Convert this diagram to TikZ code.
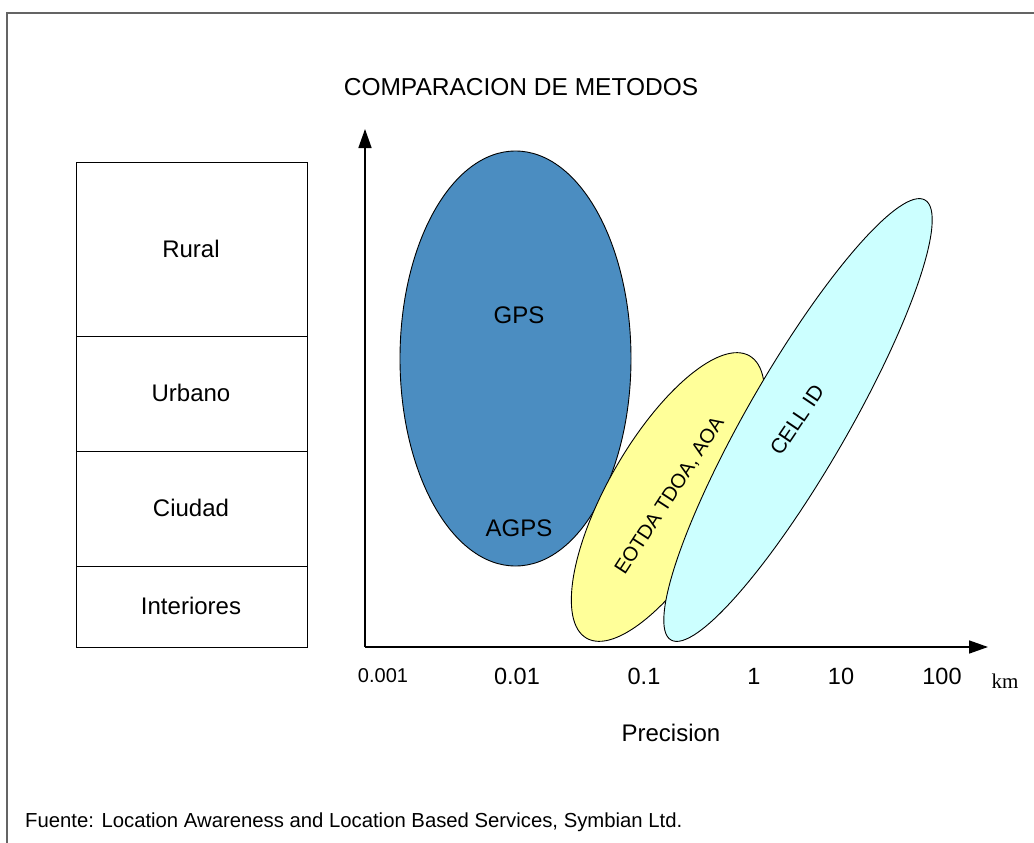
\documentclass[tikz,border=0pt]{standalone}
\usepackage{fontspec}
\setmainfont{Liberation Sans}
\newfontfamily\serifkm{Liberation Serif}
\usetikzlibrary{shapes.geometric,arrows.meta}
\definecolor{gpsblue}{RGB}{75,141,193}
\definecolor{eyellow}{RGB}{255,255,153}
\definecolor{ccyan}{RGB}{204,255,255}
\definecolor{framegray}{RGB}{100,100,100}
\tikzset{
  lbl/.style={font=\fontsize{24}{28}\selectfont, inner sep=0pt},
  tick/.style={font=\fontsize{23.5}{28}\selectfont, inner sep=0pt},
  rowbox/.style={draw=black, line width=1.3pt, rectangle, minimum width=231pt, anchor=north west, inner sep=0pt},
  blob/.style={draw=black, line width=0.9pt, ellipse, inner sep=0pt},
  axis/.style={line width=1.6pt, -{Triangle[length=19pt,width=13pt]}}
}
\begin{document}
\begin{tikzpicture}[x=1pt,y=-1pt]
\useasboundingbox[fill=white] (0,0) rectangle (1034,843);
% frame
\coordinate (fr1) at (1034,13);
\coordinate (fr2) at (7,13);
\coordinate (fr3) at (7,843);
\draw[framegray, line width=1.3pt] (fr1) -- (fr2) -- (fr3);
% title
\node[font=\fontsize{24.5}{28}\selectfont, inner sep=0pt] (title) at (521,87) {COMPARACION DE METODOS};
% left boxes
\node[rowbox, minimum height=174pt] (rural) at (76,162) {};
\node[lbl] (ruralt) at (191,249) {Rural};
\node[rowbox, minimum height=115pt] (urbano) at (76,336) {};
\node[lbl] (urbanot) at (191,393) {Urbano};
\node[rowbox, minimum height=115pt] (ciudad) at (76,451) {};
\node[lbl] (ciudadt) at (191,508) {Ciudad};
\node[rowbox, minimum height=81pt] (interiores) at (76,566) {};
\node[lbl] (interiorest) at (191,606) {Interiores};
% ellipses
\node[blob, fill=gpsblue, minimum width=231pt, minimum height=415pt] (gps) at (515.5,358.5) {};
\node[lbl] (gpst) at (519,315) {GPS};
\node[lbl] (agpst) at (519,528) {AGPS};
\node[blob, fill=eyellow, minimum width=326pt, minimum height=120pt, rotate=60] (eotda) at (668,497) {};
\node[inner sep=0pt, font=\fontsize{20}{24}\selectfont, rotate=57] (eotdat) at (670,496) {EOTDA TDOA, AOA};
\node[blob, fill=ccyan, minimum width=508pt, minimum height=100pt, rotate=60] (cellid) at (798,420) {};
\node[inner sep=0pt, font=\fontsize{21}{24}\selectfont, rotate=56] (cellidt) at (797,420) {CELL ID};
% axes
\coordinate (O) at (365,647);
\coordinate (ytip) at (365,129);
\coordinate (xtip) at (988,647);
\draw[axis] (O) -- (ytip);
\draw[axis] (O) -- (xtip);
% ticks
\node[inner sep=0pt, font=\fontsize{20}{24}\selectfont] (t0001) at (383,676) {0.001};
\node[tick] (t001) at (517,676) {0.01};
\node[tick] (t01) at (644,676) {0.1};
\node[tick] (t1) at (754,676) {1};
\node[tick] (t10) at (841,676) {10};
\node[tick] (t100) at (942,676) {100};
\node[inner sep=0pt, font=\serifkm\fontsize{21}{24}\selectfont] (km) at (1005,681) {km};
\node[lbl] (prec) at (671,733) {Precision};
\node[inner sep=0pt, anchor=west, font=\fontsize{20.3}{24}\selectfont] (src) at (25,822) {Fuente: Location Awareness and Location Based Services, Symbian Ltd.};
\end{tikzpicture}
\end{document}
